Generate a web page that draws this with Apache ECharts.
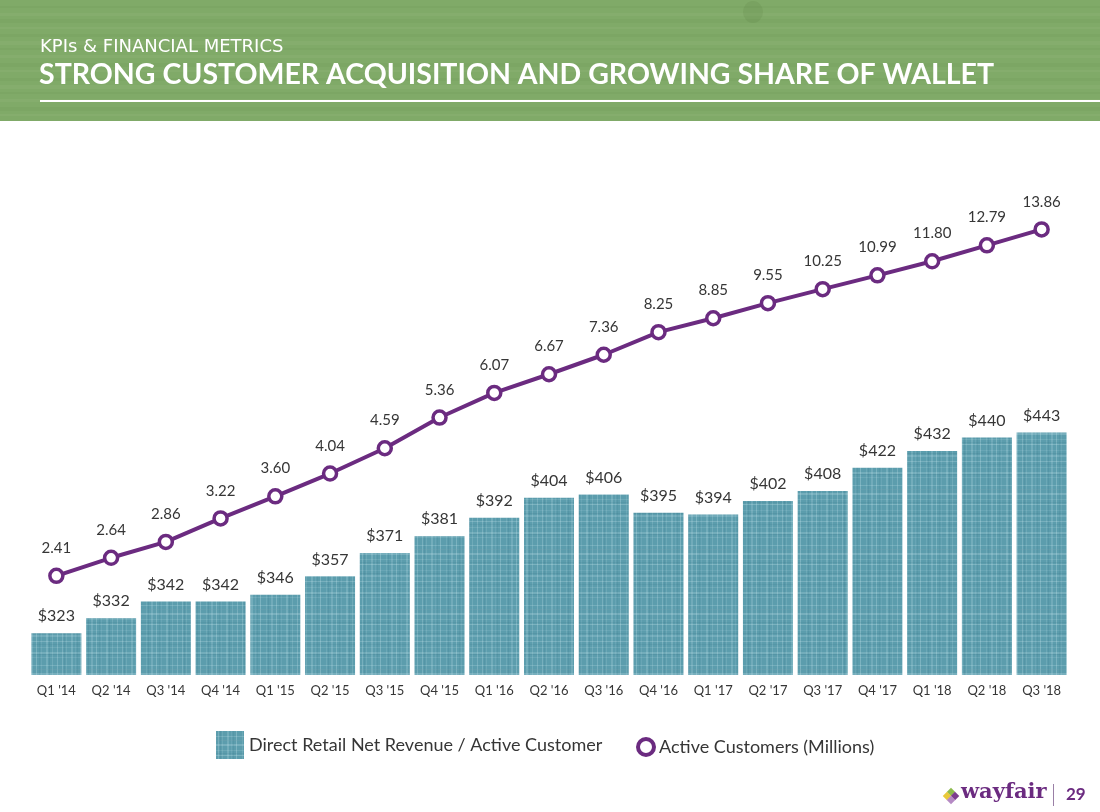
<!DOCTYPE html>
<html>
<head>
<meta charset="utf-8">
<script src="https://cdn.jsdelivr.net/npm/echarts@6/dist/echarts.min.js"></script>
<style>
html,body{margin:0;padding:0;background:#fff;}
#chart{width:1100px;height:812px;}
</style>
</head>
<body>
<div id="chart"></div>
<script>
// ---- data ----
const categories = ["Q1 '14","Q2 '14","Q3 '14","Q4 '14","Q1 '15","Q2 '15","Q3 '15","Q4 '15","Q1 '16","Q2 '16","Q3 '16","Q4 '16","Q1 '17","Q2 '17","Q3 '17","Q4 '17","Q1 '18","Q2 '18","Q3 '18"];
const revenuePerCustomer = [323,332,342,342,346,357,371,381,392,404,406,395,394,402,408,422,432,440,443];
const activeCustomers = [2.41,2.64,2.86,3.22,3.60,4.04,4.59,5.36,6.07,6.67,7.36,8.25,8.85,9.55,10.25,10.99,11.80,12.79,13.86];
const barName = 'Direct Retail Net Revenue / Active Customer';
const lineName = 'Active Customers (Millions)';

// ---- textured fill for bars (decorative) ----
function makePattern(){
  const c = document.createElement('canvas');
  c.width = 60; c.height = 60;
  const g = c.getContext('2d');
  g.fillStyle = '#5c9dad';
  g.fillRect(0,0,60,60);
  const vl = [[2,1,0.25],[6,1,0.15],[11,2,0.22],[15,1,0.12],[20,1,0.3],[26,1,0.15],[31,2,0.2],[36,1,0.28],[41,1,0.12],[46,2,0.22],[52,1,0.18],[57,1,0.25]];
  vl.forEach(v=>{ g.fillStyle='rgba(200,232,238,'+v[2]+')'; g.fillRect(v[0],0,v[1],60); });
  const hl = [[5,1,0.22],[9,1,0.14],[13,2,0.25],[19,1,0.15],[24,1,0.28],[30,1,0.12],[35,2,0.2],[41,1,0.25],[47,1,0.15],[52,2,0.22],[57,1,0.14]];
  hl.forEach(h=>{ g.fillStyle='rgba(200,232,238,'+h[2]+')'; g.fillRect(0,h[0],60,h[1]); });
  const dk = [[4,0.12],[17,0.1],[28,0.12],[39,0.1],[49,0.12]];
  dk.forEach(d=>{ g.fillStyle='rgba(40,100,115,'+d[1]+')'; g.fillRect(d[0],0,1,60); g.fillRect(0,d[0]+5,60,1); });
  return c;
}
const pattern = makePattern();

// ---- header wood texture (decorative) ----
function makeWood(){
  const c = document.createElement('canvas');
  c.width = 1100; c.height = 121;
  const g = c.getContext('2d');
  g.fillStyle = '#80aa68';
  g.fillRect(0,0,1100,121);
  const rows = [6,13,19,27,34,41,48,55,63,70,78,85,92,99,107,114];
  rows.forEach((y,i)=>{
    g.fillStyle = (i%2) ? 'rgba(255,255,255,0.04)' : 'rgba(60,100,40,0.05)';
    g.fillRect(0,y,1100,2+(i%3));
  });
  g.fillStyle='rgba(70,110,50,0.12)';
  g.beginPath(); g.ellipse(753,12,10,11,0,0,Math.PI*2); g.fill();
  return c;
}

const purple = '#6b2b80';
const textColor = '#363636';
const font = 'Lato, "Open Sans", sans-serif';

const chart = echarts.init(document.getElementById('chart'));
chart.setOption({
  animation:false,
  backgroundColor:'#ffffff',
  textStyle:{fontFamily:font},
  grid:{left:29,right:31,top:150,bottom:137},
  xAxis:{
    type:'category', data:categories,
    axisLine:{show:false}, axisTick:{show:false},
    axisLabel:{color:textColor,fontSize:13,margin:9,fontFamily:font}
  },
  yAxis:[
    {type:'value',min:298,max:612,show:false,splitLine:{show:false}},
    {type:'log',logBase:10,min:1.4605,max:20.70,show:false,splitLine:{show:false}}
  ],
  legend:[
    {left:211,top:726,itemWidth:28,itemHeight:28,
     textStyle:{color:textColor,fontSize:18,fontFamily:font},
     data:[{name:barName,icon:'rect'}]},
    {left:631,top:732,itemWidth:16,itemHeight:16,
     textStyle:{color:textColor,fontSize:18,fontFamily:font},
     data:[{name:lineName,icon:'circle',itemStyle:{color:'#fff',borderColor:purple,borderWidth:4}}]}
  ],
  series:[
    {
      name:barName, type:'bar', data:revenuePerCustomer, barWidth:50, yAxisIndex:0,
      itemStyle:{color:{image:pattern,repeat:'repeat'}},
      label:{show:true,position:'top',distance:9,color:textColor,fontSize:16,fontFamily:font,
        formatter:p=>'$'+p.value}
    },
    {
      name:lineName, type:'line', data:activeCustomers, yAxisIndex:1, z:5,
      symbol:'circle', symbolSize:13,
      lineStyle:{color:purple,width:4},
      itemStyle:{color:'#fff',borderColor:purple,borderWidth:3.5},
      label:{show:true,position:'top',distance:12,color:textColor,fontSize:15,fontFamily:font,
        formatter:p=>p.value.toFixed(2)}
    }
  ],
  graphic:[
    {type:'image',left:0,top:0,z:-1,style:{image:makeWood(),width:1100,height:121}},
    {type:'text',left:40,top:38,style:{text:'KPIs & FINANCIAL METRICS',fill:'#ffffff',fontSize:18,fontFamily:'"DejaVu Sans", sans-serif'}},
    {type:'text',left:39,top:60,style:{text:'STRONG CUSTOMER ACQUISITION AND GROWING SHARE OF WALLET',fill:'#ffffff',fontSize:28.5,fontWeight:'bold',fontFamily:font}},
    {type:'rect',shape:{x:40,y:100,width:1060,height:2},style:{fill:'#ffffff'}},
    // footer logo
    {type:'rect',shape:{x:948,y:789,width:6,height:6},rotation:Math.PI/4,originX:951,originY:792,style:{fill:'#8dbb4d'}},
    {type:'rect',shape:{x:952,y:793,width:6,height:6},rotation:Math.PI/4,originX:955,originY:796,style:{fill:'#7c3d8f'}},
    {type:'rect',shape:{x:944,y:793,width:6,height:6},rotation:Math.PI/4,originX:947,originY:796,style:{fill:'#e9c93a'}},
    {type:'rect',shape:{x:948,y:797,width:6,height:6},rotation:Math.PI/4,originX:951,originY:800,style:{fill:'#b58ac4'}},
    {type:'text',left:961,top:782,style:{text:'wayfair',fill:purple,fontSize:21,fontWeight:'bold',fontFamily:'"DejaVu Serif", serif'}},
    {type:'rect',shape:{x:1053,y:784,width:1,height:22},style:{fill:'#9a7fa6'}},
    {type:'text',left:1066,top:786,style:{text:'29',fill:purple,fontSize:17,fontWeight:'bold',fontFamily:font}}
  ]
});
</script>
</body>
</html>
